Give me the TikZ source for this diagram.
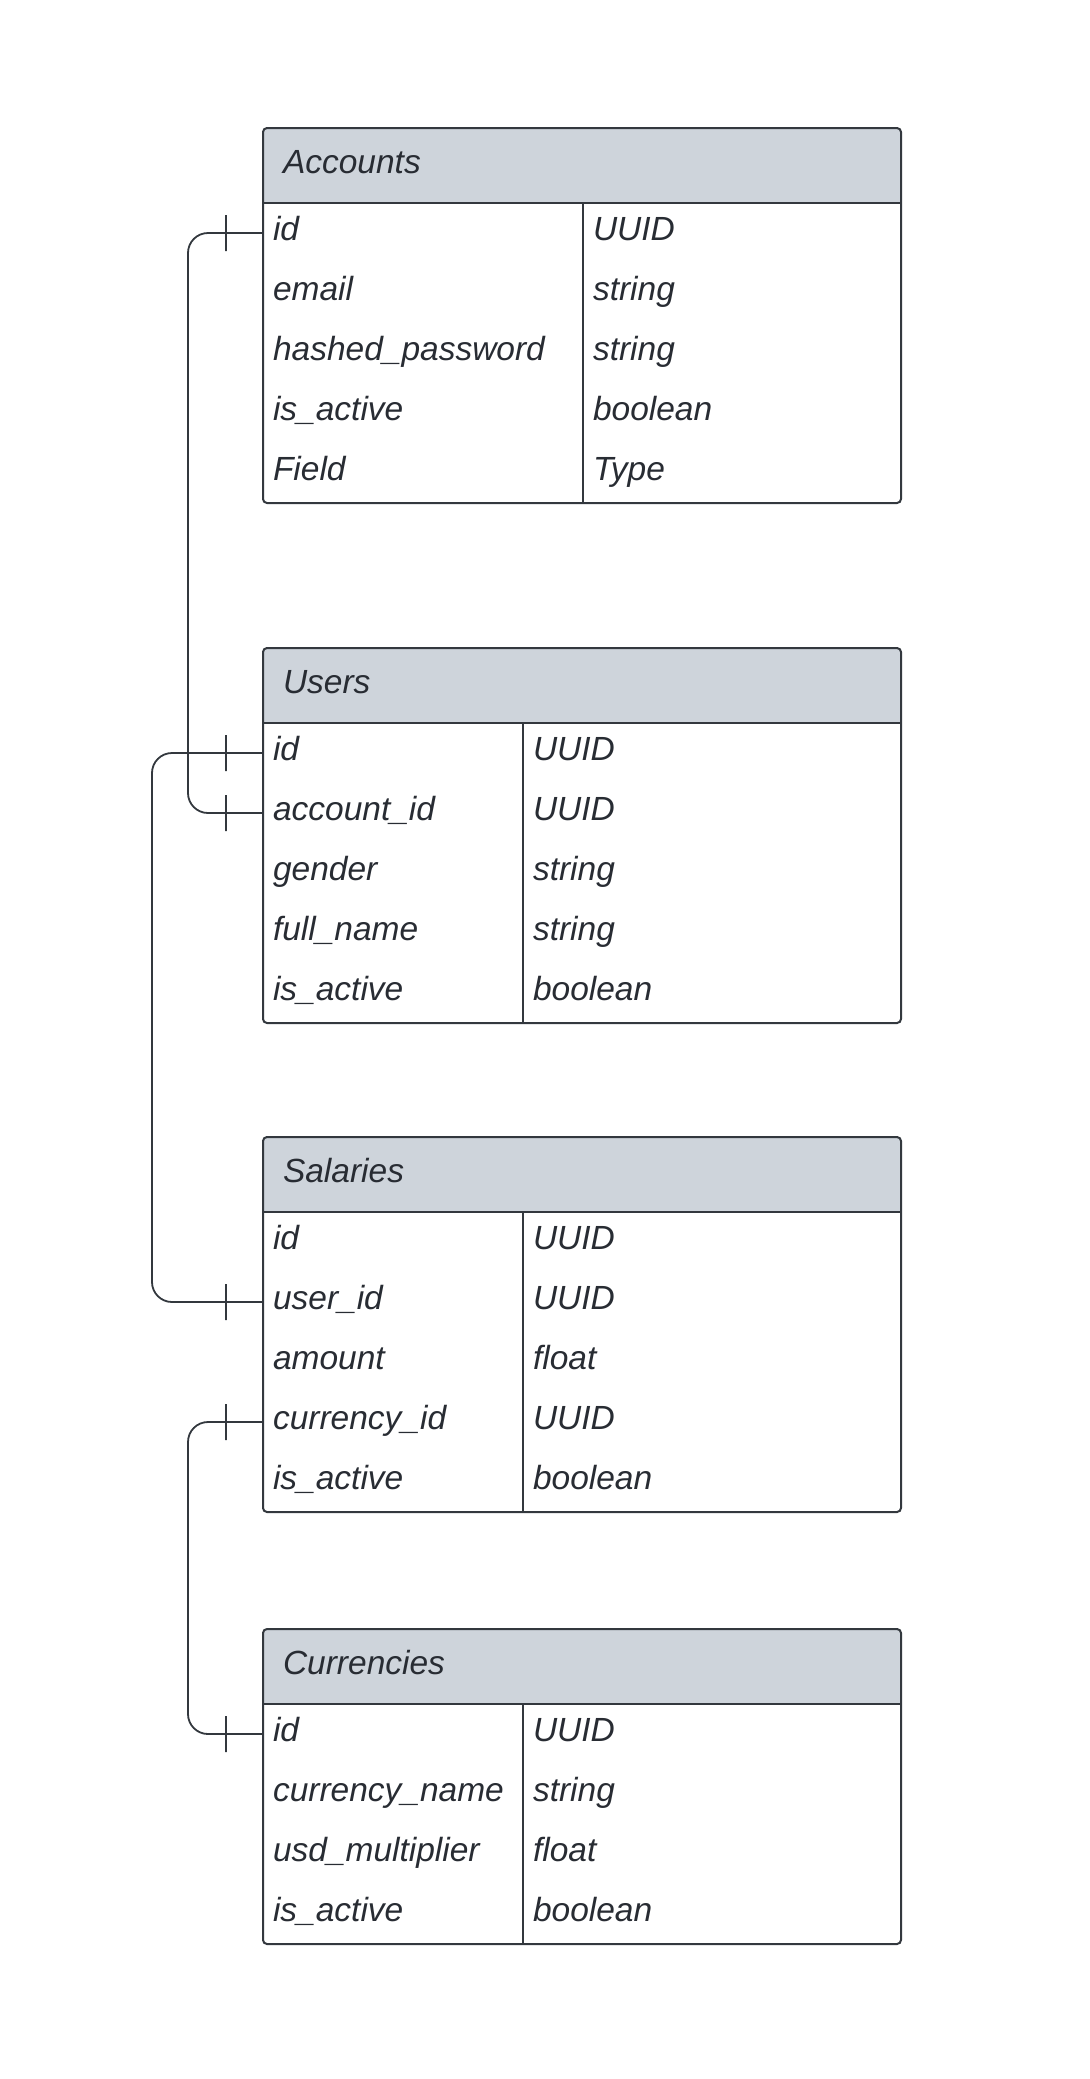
\documentclass[tikz,border=0pt]{standalone}
\usepackage{fontspec}
\setmainfont{Liberation Sans}
\usepackage{tikz}
\usetikzlibrary{positioning}
\definecolor{headgray}{HTML}{CED4DB}
\definecolor{inkgray}{HTML}{282C33}
\definecolor{edgegray}{HTML}{33383E}
\tikzset{
  tblhead/.style={fill=headgray,rounded corners=2pt,anchor=north west,text width=299pt,inner xsep=10pt,inner ysep=0pt,minimum height=37.5pt,text height=12pt,text depth=4.5pt,align=left,font={\fontsize{16.75pt}{20pt}\selectfont\itshape},text=inkgray,outer sep=0pt},
  cell/.style={text width=#1,inner xsep=5pt,inner ysep=0pt,minimum height=30pt,text height=12pt,text depth=4.5pt,align=left,font={\fontsize{16.75pt}{20pt}\selectfont\itshape},text=inkgray,outer sep=0pt},
  tblline/.style={draw=edgegray,line width=1pt,rounded corners=2pt},
  tblsep/.style={draw=edgegray,line width=1pt},
  rel/.style={draw=edgegray,line width=.9pt,rounded corners=10pt},
  tick/.style={draw=edgegray,line width=.9pt,minimum width=0pt,minimum height=18pt,inner sep=0pt,outer sep=0pt},
}

\begin{document}
\begin{tikzpicture}[x=0.5pt,y=-0.5pt]
  \useasboundingbox (0,0) rectangle (1089,2079);
  % Accounts
  \node[tblhead] (acc) at (263,128) {Accounts};
  \node[cell=150pt,below right=0pt and 0pt of acc.south west] (acc-id) {id};
  \node[cell=150pt,below=0pt of acc-id] (acc-mail) {email};
  \node[cell=150pt,below=0pt of acc-mail] (acc-pw) {hashed\_password};
  \node[cell=150pt,below=0pt of acc-pw] (acc-act) {is\_active};
  \node[cell=150pt,below=0pt of acc-act] (acc-fld) {Field};
  \node[cell=149pt,right=0pt of acc-id] (acc-id-t) {UUID};
  \node[cell=149pt,right=0pt of acc-mail] (acc-mail-t) {string};
  \node[cell=149pt,right=0pt of acc-pw] (acc-pw-t) {string};
  \node[cell=149pt,right=0pt of acc-act] (acc-act-t) {boolean};
  \node[cell=149pt,right=0pt of acc-fld] (acc-fld-t) {Type};
  \draw[tblline] (acc.north west) rectangle (acc-fld-t.south east);
  \draw[tblsep] (acc.south west) -- (acc.south east);
  \draw[tblsep] (acc-id-t.north west) -- (acc-fld-t.south west);

  % Users
  \node[tblhead] (usr) at (263,648) {Users};
  \node[cell=120pt,below right=0pt and 0pt of usr.south west] (usr-id) {id};
  \node[cell=120pt,below=0pt of usr-id] (usr-aid) {account\_id};
  \node[cell=120pt,below=0pt of usr-aid] (usr-gen) {gender};
  \node[cell=120pt,below=0pt of usr-gen] (usr-name) {full\_name};
  \node[cell=120pt,below=0pt of usr-name] (usr-act) {is\_active};
  \node[cell=179pt,right=0pt of usr-id] (usr-id-t) {UUID};
  \node[cell=179pt,right=0pt of usr-aid] (usr-aid-t) {UUID};
  \node[cell=179pt,right=0pt of usr-gen] (usr-gen-t) {string};
  \node[cell=179pt,right=0pt of usr-name] (usr-name-t) {string};
  \node[cell=179pt,right=0pt of usr-act] (usr-act-t) {boolean};
  \draw[tblline] (usr.north west) rectangle (usr-act-t.south east);
  \draw[tblsep] (usr.south west) -- (usr.south east);
  \draw[tblsep] (usr-id-t.north west) -- (usr-act-t.south west);

  % Salaries
  \node[tblhead] (sal) at (263,1137) {Salaries};
  \node[cell=120pt,below right=0pt and 0pt of sal.south west] (sal-id) {id};
  \node[cell=120pt,below=0pt of sal-id] (sal-uid) {user\_id};
  \node[cell=120pt,below=0pt of sal-uid] (sal-amt) {amount};
  \node[cell=120pt,below=0pt of sal-amt] (sal-cid) {currency\_id};
  \node[cell=120pt,below=0pt of sal-cid] (sal-act) {is\_active};
  \node[cell=179pt,right=0pt of sal-id] (sal-id-t) {UUID};
  \node[cell=179pt,right=0pt of sal-uid] (sal-uid-t) {UUID};
  \node[cell=179pt,right=0pt of sal-amt] (sal-amt-t) {float};
  \node[cell=179pt,right=0pt of sal-cid] (sal-cid-t) {UUID};
  \node[cell=179pt,right=0pt of sal-act] (sal-act-t) {boolean};
  \draw[tblline] (sal.north west) rectangle (sal-act-t.south east);
  \draw[tblsep] (sal.south west) -- (sal.south east);
  \draw[tblsep] (sal-id-t.north west) -- (sal-act-t.south west);

  % Currencies
  \node[tblhead] (cur) at (263,1629) {Currencies};
  \node[cell=120pt,below right=0pt and 0pt of cur.south west] (cur-id) {id};
  \node[cell=120pt,below=0pt of cur-id] (cur-name) {currency\_name};
  \node[cell=120pt,below=0pt of cur-name] (cur-usd) {usd\_multiplier};
  \node[cell=120pt,below=0pt of cur-usd] (cur-act) {is\_active};
  \node[cell=179pt,right=0pt of cur-id] (cur-id-t) {UUID};
  \node[cell=179pt,right=0pt of cur-name] (cur-name-t) {string};
  \node[cell=179pt,right=0pt of cur-usd] (cur-usd-t) {float};
  \node[cell=179pt,right=0pt of cur-act] (cur-act-t) {boolean};
  \draw[tblline] (cur.north west) rectangle (cur-act-t.south east);
  \draw[tblsep] (cur.south west) -- (cur.south east);
  \draw[tblsep] (cur-id-t.north west) -- (cur-act-t.south west);

  % relations
  \draw[rel] (acc-id.west) -- ++(-37.5pt,0) |- (usr-aid.west);
  \draw[rel] (usr-id.west) -- ++(-55.5pt,0) |- (sal-uid.west);
  \draw[rel] (sal-cid.west) -- ++(-37.5pt,0) |- (cur-id.west);
  \node[tick,left=18.5pt of acc-id.west] (t1) {};
  \node[tick,left=18.5pt of usr-aid.west] (t2) {};
  \node[tick,left=18.5pt of usr-id.west] (t3) {};
  \node[tick,left=18.5pt of sal-uid.west] (t4) {};
  \node[tick,left=18.5pt of sal-cid.west] (t5) {};
  \node[tick,left=18.5pt of cur-id.west] (t6) {};
\end{tikzpicture}
\end{document}
